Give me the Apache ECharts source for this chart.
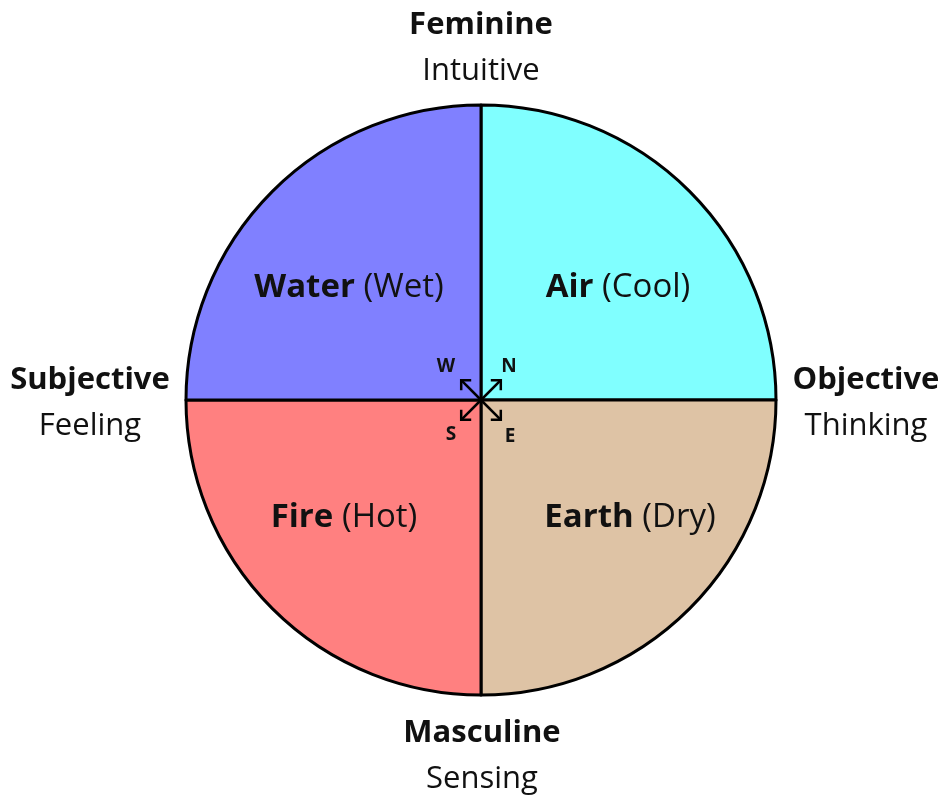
<!DOCTYPE html>
<html>
<head>
<meta charset="utf-8">
<script src="https://cdn.jsdelivr.net/npm/echarts@6/dist/echarts.min.js"></script>
<style>
  html, body { margin: 0; padding: 0; background: #fff; }
  #chart { width: 942px; height: 797px; }
</style>
</head>
<body>
<div id="chart"></div>
<script>
// quadrants, clockwise from 12 o'clock
const elements = ["Air", "Earth", "Fire", "Water"];
const qualities = ["Cool", "Dry", "Hot", "Wet"];
const shares = [1, 1, 1, 1];
const colors = ["#80ffff", "#dec3a5", "#ff8080", "#8080ff"];
// label anchor offsets from centre, px
const labelPos = [[137, -112], [149, 118], [-137, 118], [-132, -112]];

// outer poles: bold title, plain subtitle
const poles = [
  { title: "Feminine", sub: "Intuitive", x: 0, y: -375 },
  { title: "Objective", sub: "Thinking", x: 385, y: -20 },
  { title: "Masculine", sub: "Sensing", x: 1, y: 333 },
  { title: "Subjective", sub: "Feeling", x: -391, y: -20 }
];

// compass directions (screen angle, degrees)
const compass = [
  { dir: "N", angle: -45, lx: 28, ly: -33 },
  { dir: "E", angle: 45, lx: 29, ly: 37 },
  { dir: "S", angle: 135, lx: -30, ly: 35 },
  { dir: "W", angle: -135, lx: -35, ly: -33 }
];

const cx = 481, cy = 400, R = 295;
const chart = echarts.init(document.getElementById("chart"));

const font = "'Open Sans', sans-serif";
const graphics = [];

elements.forEach(function (name, i) {
  graphics.push({
    type: "text",
    x: cx + labelPos[i][0],
    y: cy + labelPos[i][1],
    z: 20,
    style: {
      text: "{b|" + name + "} {r|(" + qualities[i] + ")}",
      align: "center",
      verticalAlign: "middle",
      font: "33px " + font,
      fill: "#111",
      rich: {
        b: { fontFamily: "Open Sans", fontSize: 33, fontWeight: "bold", fill: "#111" },
        r: { fontFamily: "Open Sans", fontSize: 33, fill: "#111" }
      }
    }
  });
});

poles.forEach(function (p) {
  graphics.push({
    type: "text",
    x: cx + p.x,
    y: cy + p.y,
    style: {
      text: p.title,
      align: "center",
      verticalAlign: "middle",
      font: "bold 31px " + font,
      fill: "#111"
    }
  });
  graphics.push({
    type: "text",
    x: cx + p.x,
    y: cy + p.y + 46,
    style: {
      text: p.sub,
      align: "center",
      verticalAlign: "middle",
      font: "31px " + font,
      fill: "#111"
    }
  });
});

const arrowLen = 28, head = 10;
compass.forEach(function (c) {
  const a = c.angle * Math.PI / 180;
  const tx = cx + arrowLen * Math.cos(a), ty = cy + arrowLen * Math.sin(a);
  const h1 = a + Math.PI - Math.PI / 4, h2 = a + Math.PI + Math.PI / 4;
  graphics.push({
    type: "polyline",
    shape: { points: [[cx, cy], [tx, ty]] },
    style: { stroke: "#000", lineWidth: 2.5, fill: null },
    z: 20
  });
  graphics.push({
    type: "polyline",
    shape: {
      points: [
        [tx + head * Math.cos(h1), ty + head * Math.sin(h1)],
        [tx, ty],
        [tx + head * Math.cos(h2), ty + head * Math.sin(h2)]
      ]
    },
    style: { stroke: "#000", lineWidth: 2.5, fill: null },
    z: 20
  });
  graphics.push({
    type: "text",
    x: cx + c.lx,
    y: cy + c.ly,
    style: {
      text: c.dir,
      align: "center",
      verticalAlign: "middle",
      fontFamily: "Open Sans",
      fontSize: 19,
      fontWeight: "bold",
      fill: "#111"
    },
    z: 20
  });
});

chart.setOption({
  animation: false,
  series: [{
    type: "pie",
    center: [cx, cy],
    radius: [0, R],
    startAngle: 90,
    clockwise: true,
    silent: true,
    label: { show: false },
    labelLine: { show: false },
    itemStyle: { borderColor: "#000", borderWidth: 3 },
    data: elements.map(function (name, i) {
      return { name: name, value: shares[i], itemStyle: { color: colors[i] } };
    })
  }],
  graphic: graphics
});
</script>
</body>
</html>
